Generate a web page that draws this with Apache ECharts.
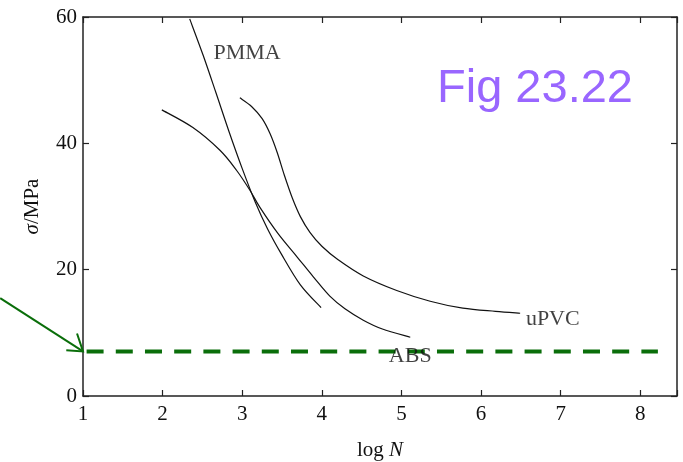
<!DOCTYPE html>
<html><head><meta charset="utf-8">
<script src="https://cdn.jsdelivr.net/npm/echarts@6/dist/echarts.min.js"></script>
<style>html,body{margin:0;padding:0;background:#fff}#c{width:683px;height:462px}</style>
</head><body><div id="c"></div>
<script>
// Data (log N, sigma/MPa)
var pmma = [[2.34,59.7],[2.51,53.9],[2.67,48.0],[2.83,42.0],[3.00,36.0],[3.16,30.8],[3.32,26.4],[3.49,22.5],[3.73,17.6],[3.99,14.0]];
var abs  = [[1.99,45.3],[2.38,42.5],[2.72,38.9],[2.93,35.7],[3.10,32.5],[3.22,29.9],[3.45,25.7],[3.69,22.0],[3.89,18.9],[4.10,15.8],[4.29,13.8],[4.52,12.0],[4.76,10.6],[5.11,9.3]];
var upvc = [[2.97,47.2],[3.12,45.8],[3.25,43.9],[3.35,41.5],[3.44,38.5],[3.53,34.9],[3.63,31.3],[3.73,28.4],[3.85,25.9],[4.00,23.7],[4.20,21.6],[4.52,19.0],[4.94,16.7],[5.36,15.0],[5.77,13.9],[6.18,13.4],[6.49,13.1]];
var limitLine = [[1.045,7.06],[8.22,7.06]];
var arrowShaft = [[-0.04,15.5],[1.0,7.06]];
var arrowHead = [[0.925,9.9],[1.0,7.06],[0.79,7.25]];
var curveLabels = [
  {name:'PMMA', value:[3.06,54.3]},
  {name:'uPVC', value:[6.90,12.2]},
  {name:'ABS',  value:[5.11,6.3]}
];
var xTicks = [1,2,3,4,5,6,7,8];
var yTicks = [0,20,40,60];

var serif = '"Liberation Serif","DejaVu Serif",serif';
var axisCol = '#222';
var green = '#0a6e0a';
var chart = echarts.init(document.getElementById('c'));
var base = {
  type:'value', min:1, max:8.46, interval:1,
  axisLine:{show:true, onZero:false, lineStyle:{color:axisCol,width:1.5}},
  axisTick:{inside:true, length:6, lineStyle:{color:axisCol,width:1.2}},
  splitLine:{show:false}
};
// Catmull-Rom spline through the points (in pixel space, after the library's scale)
function splinePath(pts){
  var d = 'M' + pts[0][0] + ' ' + pts[0][1];
  for (var i = 0; i < pts.length - 1; i++) {
    var p0 = pts[i-1] || pts[i], p1 = pts[i], p2 = pts[i+1], p3 = pts[i+2] || pts[i+1];
    var c1x = p1[0] + (p2[0]-p0[0])/6, c1y = p1[1] + (p2[1]-p0[1])/6;
    var c2x = p2[0] - (p3[0]-p1[0])/6, c2y = p2[1] - (p3[1]-p1[1])/6;
    d += ' C' + c1x + ' ' + c1y + ' ' + c2x + ' ' + c2y + ' ' + p2[0] + ' ' + p2[1];
  }
  return d;
}
function curveSeries(name, arr){
  return {type:'custom', name:name, data:[0], clip:false, z:3,
    renderItem:function(params, api){
      var pts = arr.map(function(p){ return api.coord(p); });
      return {type:'path', shape:{pathData:splinePath(pts)}, style:{stroke:'#111', lineWidth:1.2, fill:null}};
    }};
}
chart.setOption({
  animation:false,
  grid:{left:83, right:6, top:17, bottom:66, outerBoundsMode:'none', containLabel:false},
  xAxis:[
    Object.assign({}, base, {position:'bottom',
      axisLabel:{margin:8, color:'#111', fontFamily:serif, fontSize:21,
        formatter:function(v){return xTicks.indexOf(v)>=0 ? String(v) : '';}},
      name:'{a|log }{b|N}', nameLocation:'middle', nameGap:44,
      nameTextStyle:{rich:{a:{fontFamily:serif,fontSize:21,color:'#111'},b:{fontFamily:serif,fontSize:21,fontStyle:'italic',color:'#111'}}}
    }),
    Object.assign({}, base, {position:'top', axisLabel:{show:false}})
  ],
  yAxis:[
    {type:'value', min:0, max:60, interval:20, position:'left',
      axisLine:{show:true, onZero:false, lineStyle:{color:axisCol,width:1.5}},
      axisTick:{inside:true, length:6, lineStyle:{color:axisCol,width:1.2}},
      splitLine:{show:false},
      axisLabel:{margin:6, color:'#111', fontFamily:serif, fontSize:21,
        formatter:function(v){return yTicks.indexOf(v)>=0 ? String(v) : '';}},
      name:'{b|σ}{a|/MPa}', nameLocation:'middle', nameGap:40, nameRotate:90,
      nameTextStyle:{rich:{a:{fontFamily:serif,fontSize:21,color:'#111'},b:{fontFamily:serif,fontSize:21,fontStyle:'italic',color:'#111'}}}
    },
    {type:'value', min:0, max:60, interval:20, position:'right',
      axisLine:{show:true, onZero:false, lineStyle:{color:axisCol,width:1.5}},
      axisTick:{inside:true, length:6, lineStyle:{color:axisCol,width:1.2}},
      splitLine:{show:false}, axisLabel:{show:false}}
  ],
  graphic:[{type:'text', left:437, top:66, z:100,
    style:{text:'Fig 23.22', fill:'#9966ff', font:'47px "Liberation Sans", Arial, sans-serif'}}],
  series:[
    curveSeries('PMMA', pmma),
    curveSeries('ABS', abs),
    curveSeries('uPVC', upvc),
    {type:'line', data:limitLine, symbol:'none', z:5, lineStyle:{color:green,width:4,type:[17,12.2]}},
    {type:'custom', data:[0], clip:false, z:6,
      renderItem:function(params, api){
        var toPts = function(arr){ return arr.map(function(p){ return api.coord(p); }); };
        return {type:'group', children:[
          {type:'polyline', shape:{points:toPts(arrowShaft)}, style:{stroke:green, lineWidth:2, fill:null}},
          {type:'polyline', shape:{points:toPts(arrowHead)}, style:{stroke:green, lineWidth:2, fill:null}}
        ]};
      }},
    {type:'scatter', data:curveLabels, symbolSize:0, z:10,
      label:{show:true, position:'inside', formatter:function(p){return p.name;},
        fontFamily:serif, fontSize:22, color:'#111'}}
  ]
});
</script></body></html>
